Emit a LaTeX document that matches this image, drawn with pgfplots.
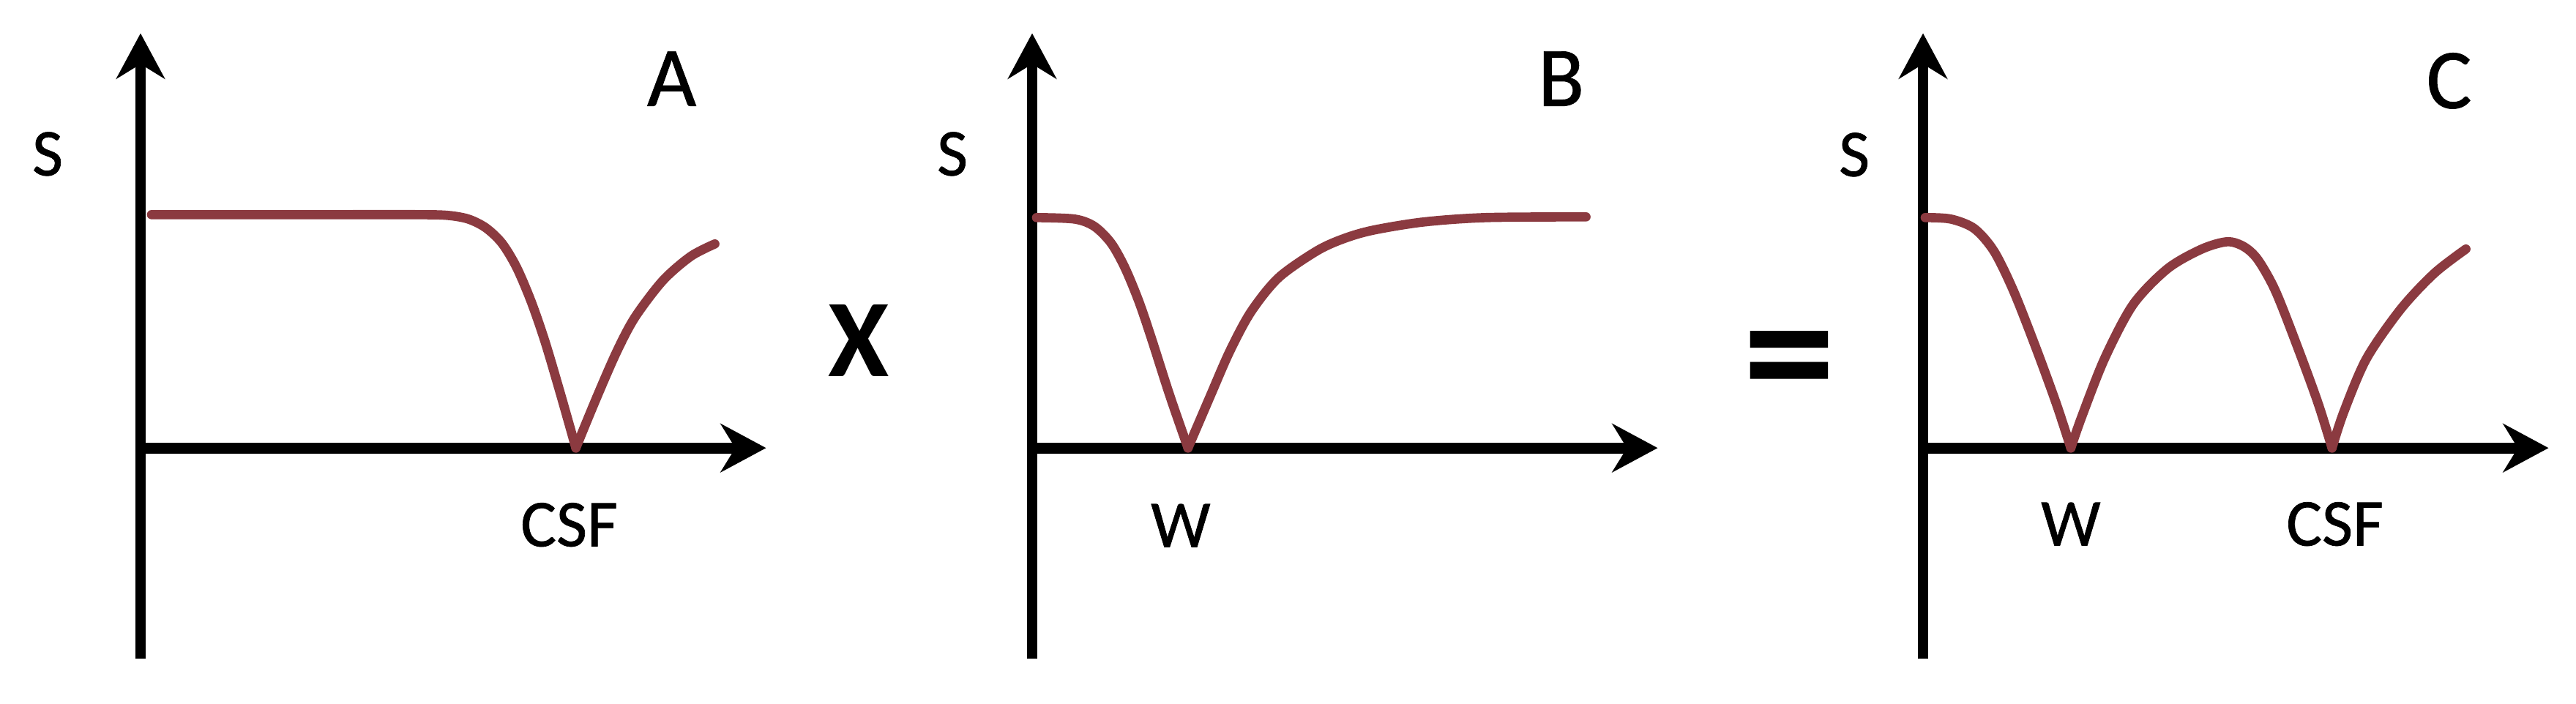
\documentclass[border=0pt]{standalone}
\usepackage{fontspec}
\setmainfont{Carlito}
\newfontfamily\labfont[FakeBold=0.8]{Carlito}
\usepackage{pgfplots}
\pgfplotsset{compat=1.18}
\usetikzlibrary{arrows.meta}
\definecolor{curvered}{RGB}{139,58,64}

% one unit = one pixel of the 3519x961 reference
\pgfplotsset{
  panel/.style={
    x=0.01cm, y=0.01cm,
    xmin=0, xmax=855, ymin=-288, ymax=567,
    axis lines=middle,
    xtick=\empty, ytick=\empty,
    axis line style={line width=4.2pt, -{Stealth[length=0.62cm,width=0.66cm,inset=0.2cm]}},
    clip=false, anchor=south west,
  },
  resp/.style={line width=3.6pt, color=curvered, smooth, line cap=round, no marks},
}
\newcommand{\lab}{\labfont\fontsize{26}{30}\selectfont}
\newcommand{\panellab}{\labfont\fontsize{33}{38}\selectfont}

\begin{document}
\begin{tikzpicture}
\useasboundingbox (0cm,0cm) rectangle (35.19cm,9.61cm);

% A
\begin{axis}[panel, at={(1.92cm,0.61cm)}]
\addplot[resp] coordinates {(15,319) (250,319) (380,319) (420,318) (448,313) (472,301) (494,280) (514,247) (534,200) (553,145) (574,74) (595,0)};
\addplot[resp] coordinates {(595,0) (623,68) (651,132) (676,179) (714,229) (752,262) (785,279)};
\node[font=\lab] at (axis cs:-127,402) {S};
\node[font=\panellab] at (axis cs:726,505) {A};
\node[font=\lab] at (axis cs:586,-105) {CSF};
\end{axis}

% B
\begin{axis}[panel, at={(14.10cm,0.61cm)}]
\addplot[resp] coordinates {(6,315) (58,313) (85,303) (108,280) (127,246) (146,200) (163,150) (188,72) (213,0)};
\addplot[resp] coordinates {(213,0) (243,70) (270,132) (299,186) (337,233) (390,270) (428,287) (467,298) (535,309) (620,315) (757,316)};
\node[font=\lab] at (axis cs:-109,402) {S};
\node[font=\panellab] at (axis cs:723,505) {B};
\node[font=\lab] at (axis cs:203,-106) {W};
\node[font=\fontsize{43}{48}\selectfont\bfseries] at (axis cs:-237,147) {X};
\end{axis}

% C
\begin{axis}[panel, at={(26.27cm,0.61cm)}]
\addplot[resp] coordinates {(3,315) (38,313) (70,300) (97,269) (124,214) (155,135) (182,61) (202,0)};
\addplot[resp] coordinates {(202,0) (217,43) (248,122) (287,196) (334,245) (381,272) (416,282) (439,275) (458,257) (482,214) (513,135) (540,61) (559,0)};
\addplot[resp] coordinates {(559,0) (575,49) (606,122) (653,190) (699,239) (742,272)};
\node[font=\lab] at (axis cs:-94,401) {S};
\node[font=\panellab] at (axis cs:719,502) {C};
\node[font=\lab] at (axis cs:202,-104) {W};
\node[font=\lab] at (axis cs:563,-104) {CSF};
\node[font=\fontsize{72}{80}\selectfont\bfseries] at (axis cs:-183,103) {=};
\end{axis}
\end{tikzpicture}
\end{document}
